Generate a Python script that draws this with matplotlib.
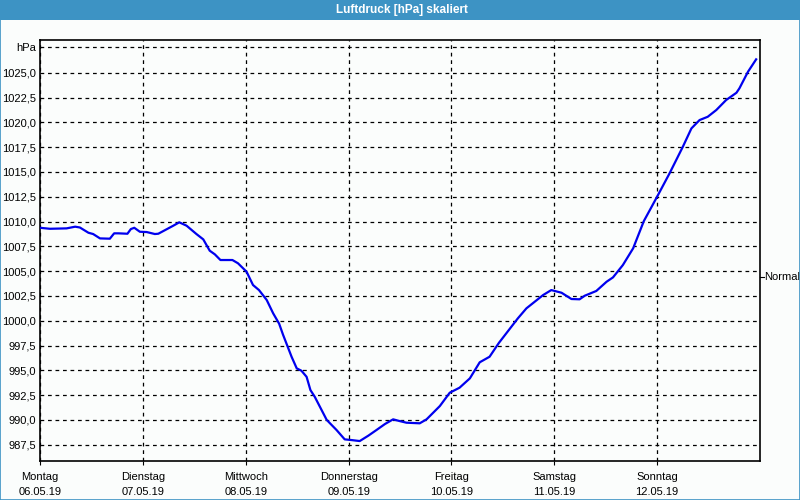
import matplotlib
matplotlib.use('Agg')
import matplotlib.pyplot as plt
from matplotlib.patches import Rectangle
import numpy as np

plt.rcParams['font.family'] = ['Liberation Sans', 'DejaVu Sans']

# Stunden seit Montag 00:00 und Luftdruck in hPa
stunden = [0, 2.3, 6.2, 8.2, 9.3, 11.3, 12.4, 14.0, 16.3, 17.3, 18.3, 20.4, 21.2,
           22.0, 23.3, 24.9, 26.8, 27.6, 29.2, 31.1, 32.5, 34.2, 36.5, 38.1,
           39.6, 40.8, 42.1, 44.9, 46.2, 48.2, 49.7, 51.1, 52.9, 54.4, 55.8,
           56.7, 58.7, 59.9, 61.0, 62.2, 63.1, 64.1, 66.9, 69.2, 71.1, 72.7,
           74.6, 76.6, 78.5, 80.5, 82.4, 83.6, 85.5, 88.6, 90.2, 93.3, 95.6,
           97.9, 100.3, 102.6, 104.9, 107.1, 111.5, 113.5, 117.4, 119.3, 121.7,
           124.0, 125.9, 127.1, 129.8, 132.2, 133.7, 136.0, 138.4, 140.9, 142.3,
           144.2, 146.9, 150.0, 152.0, 153.9, 155.8, 157.8, 160.1, 162.5, 163.2,
           165.2, 167.1]
druck = [1009.37, 1009.27, 1009.31, 1009.48, 1009.40, 1008.87, 1008.74, 1008.30,
         1008.27, 1008.81, 1008.81, 1008.77, 1009.24, 1009.37, 1008.97, 1008.94,
         1008.74, 1008.77, 1009.14, 1009.58, 1009.92, 1009.58, 1008.74, 1008.20,
         1007.06, 1006.69, 1006.12, 1006.12, 1005.79, 1004.94, 1003.60, 1003.09,
         1002.09, 1000.75, 999.70, 998.60, 996.37, 995.20, 994.96, 994.35,
         993.01, 992.34, 990.00, 988.98, 988.04, 987.97, 987.87, 988.41, 988.98,
         989.59, 990.06, 989.92, 989.72, 989.66, 990.06, 991.40, 992.74, 993.25,
         994.19, 995.81, 996.37, 997.78, 1000.24, 1001.25, 1002.59, 1003.09,
         1002.82, 1002.19, 1002.16, 1002.52, 1003.00, 1003.93, 1004.37, 1005.61,
         1007.30, 1010.05, 1011.16, 1012.67, 1014.86, 1017.54, 1019.39, 1020.23,
         1020.56, 1021.24, 1022.25, 1022.98, 1023.43, 1025.10, 1026.35]

tage = ['Montag', 'Dienstag', 'Mittwoch', 'Donnerstag', 'Freitag', 'Samstag', 'Sonntag']
daten = ['06.05.19', '07.05.19', '08.05.19', '09.05.19', '10.05.19', '11.05.19', '12.05.19']
y_werte = [987.5, 990.0, 992.5, 995.0, 997.5, 1000.0, 1002.5, 1005.0, 1007.5,
           1010.0, 1012.5, 1015.0, 1017.5, 1020.0, 1022.5, 1025.0]
hpa_pos = 1027.6
normal = 1004.4

bg = '#fbfdfc'
blau = '#3d93c4'

fig = plt.figure(figsize=(8, 5), dpi=100, facecolor=bg)

# Titelleiste und Rahmen
fig.patches.append(Rectangle((0, 0.96), 1, 0.04, transform=fig.transFigure,
                             facecolor=blau, edgecolor='none', zorder=0))
fig.patches.append(Rectangle((0.0006, 0.001), 0.9988, 0.998, transform=fig.transFigure,
                             facecolor='none', edgecolor=blau, lw=1.2, zorder=5))
fig.text(0.503, 0.979, 'Luftdruck [hPa] skaliert', color='white', fontsize=8.5,
         fontweight='bold', ha='center', va='center')

ax = fig.add_axes([0.05, 0.0786, 0.90, 0.8414])
ax.set_facecolor(bg)
ax.plot(np.array(stunden) / 24.0, druck, color='#0000ee', lw=1.6, zorder=3)

ax.set_xlim(0, 7)
ax.set_ylim(985.89, 1028.30)

ax.set_xticks(range(7))
ax.set_xticklabels([f'{t}\n{d}' for t, d in zip(tage, daten)], fontsize=8,
                   linespacing=1.6)
ax.set_yticks(y_werte + [hpa_pos])
ax.set_yticklabels([f'{v:.1f}'.replace('.', ',') for v in y_werte] + ['hPa'],
                   fontsize=8)
ax.tick_params(axis='y', length=0, pad=3)
ax.tick_params(axis='x', length=3, pad=5, direction='out')

ax.grid(True, color='black', linestyle=(0, (3, 3)), lw=0.9)
for s in ax.spines.values():
    s.set_linewidth(1.2)

# Markierung "Normal" rechts
ax.annotate('Normal', xy=(1.0, normal), xycoords=('axes fraction', 'data'),
            xytext=(3, 0), textcoords='offset points', fontsize=8,
            va='center', ha='left')
ax.plot([1.0, 1.005], [normal, normal], transform=ax.get_yaxis_transform(),
        color='black', lw=0.8, clip_on=False)

fig.savefig('out.png', dpi=100, facecolor=bg)
